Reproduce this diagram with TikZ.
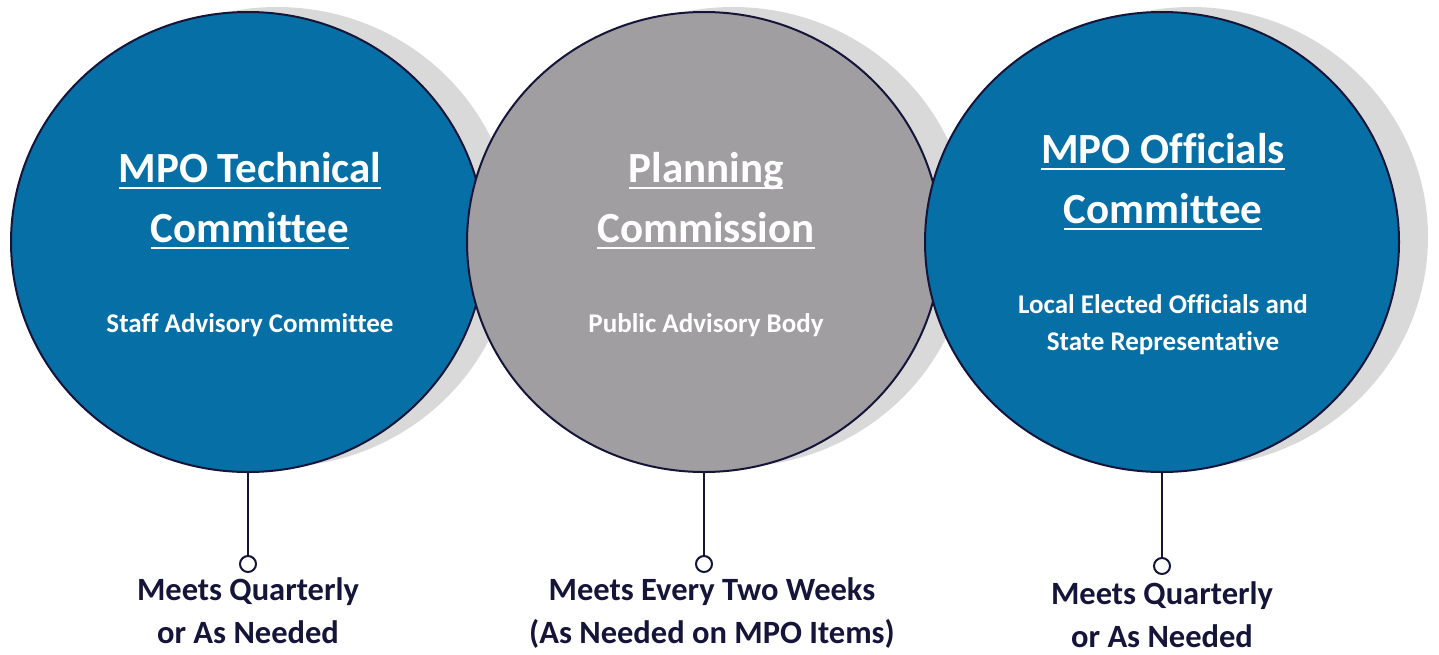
\documentclass[tikz,border=0pt]{standalone}
\usepackage{fontspec}
\setmainfont{Carlito}[Ligatures=NoCommon]
\usetikzlibrary{positioning,shapes.geometric,shadows}
\definecolor{mpoblue}{HTML}{066FA5}
\definecolor{mpogray}{HTML}{A09EA0}
\definecolor{shadegray}{HTML}{D9D9D9}
\definecolor{edgenavy}{HTML}{15153A}
\newsavebox{\ulinebox}
\newcommand{\ulinetext}[1]{\sbox{\ulinebox}{#1}%
  \rlap{\vrule height -4.5pt depth 7pt width \wd\ulinebox}\usebox{\ulinebox}}

\begin{document}
\begin{tikzpicture}[
    x=1pt, y=-1pt,
    body/.style={ellipse, draw=edgenavy, line width=2pt,
      minimum width=474pt, minimum height=460pt,
      drop shadow={shadow xshift=29pt, shadow yshift=5pt,
        fill=shadegray, opacity=1}},
    title/.style={anchor=base, align=center, text=white, inner sep=0pt,
      font=\fontsize{43}{60}\selectfont\bfseries},
    subtitle/.style={anchor=base, align=center, text=white, inner sep=0pt,
      font=\fontsize{27}{37}\selectfont\bfseries},
    dot/.style={circle, draw=edgenavy, fill=white, line width=2pt,
      inner sep=0pt, minimum size=16pt},
    meet/.style={align=center, text=edgenavy, inner sep=0pt,
      font=\fontsize{32.5}{43}\selectfont\bfseries}]
    \useasboundingbox (0,0) rectangle (1439,654);

    % the three bodies
    \node[body, fill=mpoblue] (tech) at (248,242) {};
    \node[body, fill=mpogray] (plan) at (704,242) {};
    \node[body, fill=mpoblue] (offi) at (1162,242) {};

    \node[title] (techtitle) at (250,242) {\ulinetext{MPO Technical}\\\ulinetext{Committee}};
    \node[subtitle] (techsub) at (250,332) {Staff Advisory Committee};
    \node[title] (plantitle) at (706,242) {\ulinetext{Planning}\\\ulinetext{Commission}};
    \node[subtitle] (plansub) at (706,332) {Public Advisory Body};
    \node[title] (offititle) at (1163,223) {\ulinetext{MPO Officials}\\\ulinetext{Committee}};
    \node[subtitle] (offisub) at (1163,350) {Local Elected Officials and\\State Representative};

    % meeting schedule
    \node[dot, below=82pt of tech] (techdot) {};
    \node[dot, below=82pt of plan] (plandot) {};
    \node[dot, below=84pt of offi] (offidot) {};
    \draw[edgenavy, line width=2pt] (tech.south) -- (techdot);
    \draw[edgenavy, line width=2pt] (plan.south) -- (plandot);
    \draw[edgenavy, line width=2pt] (offi.south) -- (offidot);

    \node[meet, below=4pt of techdot] (techmeet) {Meets Quarterly\\or As Needed};
    \node[meet, below=4pt of plandot, xshift=8pt] (planmeet) {Meets Every Two Weeks\\(As Needed on MPO Items)};
    \node[meet, below=6pt of offidot] (offimeet) {Meets Quarterly\\or As Needed};
\end{tikzpicture}
\end{document}
